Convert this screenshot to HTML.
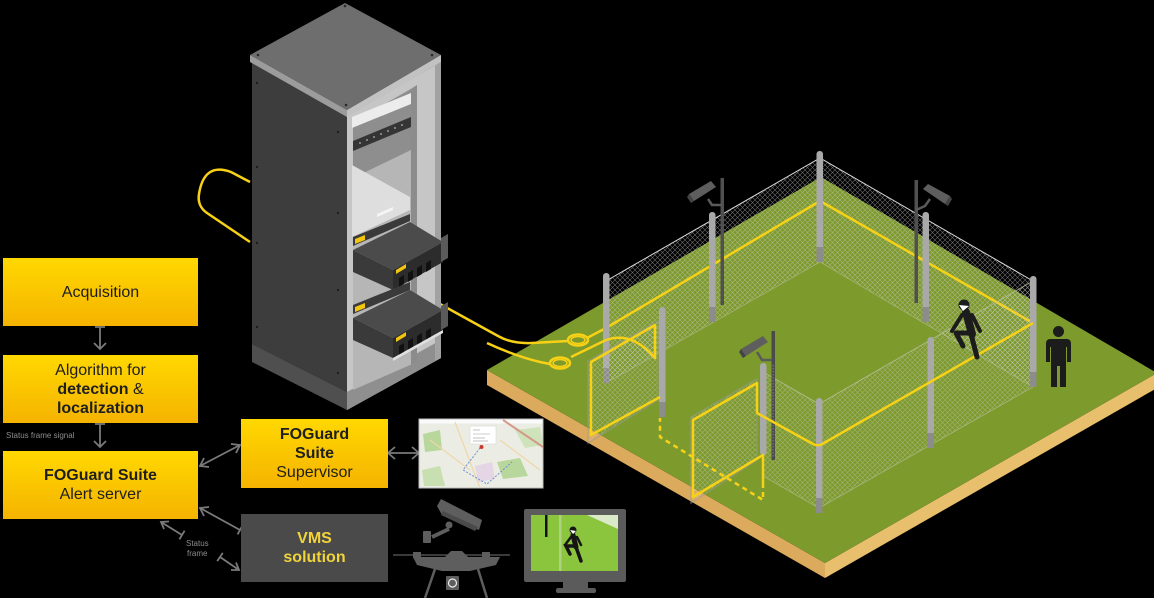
<!DOCTYPE html>
<html><head><meta charset="utf-8"><style>
html,body{margin:0;padding:0;background:#000;}
#wrap{position:relative;width:1154px;height:598px;overflow:hidden;background:#000;font-family:"Liberation Sans",sans-serif;}
.box{position:absolute;background:linear-gradient(#ffd800,#f5b300);display:flex;flex-direction:column;justify-content:center;align-items:center;text-align:center;font-size:16px;line-height:19px;color:#1e1e1e;}
.box b{font-weight:bold;}
.vms{background:#4a4a4a;color:#f0d43a;font-weight:bold;}
.lbl{position:absolute;font-size:8px;color:#8c8c8c;white-space:nowrap;line-height:10px;}
</style></head><body><div id="wrap">
<svg width="1154" height="598" viewBox="0 0 1154 598" xmlns="http://www.w3.org/2000/svg" style="position:absolute;left:0;top:0">
<defs>
<pattern id="mesh" width="5" height="5" patternUnits="userSpaceOnUse"><path d="M0,0L5,5M5,0L0,5" stroke="#cfcfcf" stroke-width="0.55" fill="none"/></pattern>
</defs>

<!-- ===== GROUND ===== -->
<polygon points="487,370 825,563 825,578 487,385" fill="#dcaa5c"/>
<polygon points="825,563 1157,373 1157,388 825,578" fill="#e8bf6c"/>
<polygon points="487,370 821,177 1157,373 825,563" fill="#7d9a2d"/>

<!-- back mesh -->
<polygon points="606,281 820,158 820,262 606,383" fill="url(#mesh)" opacity="0.55"/>
<polygon points="820,158 1033,281 1033,387 820,262" fill="url(#mesh)" opacity="0.55"/>
<polyline points="606,281 820,158 1033,281" stroke="#d8d8d8" stroke-width="1" fill="none"/>
<polyline points="606,383 820,262 1033,387" stroke="#a9b57e" stroke-width="1" fill="none" opacity="0.7"/>

<!-- back yellow cable -->
<path d="M587,338 L606,328 L820,201 L1033,323" stroke="#f7d116" stroke-width="2.5" fill="none"/>

<!-- camera poles back -->
<rect x="720.5" y="178" width="3.5" height="127" fill="#505050"/>
<rect x="914.5" y="180" width="3.5" height="123" fill="#505050"/>
<!-- camera A -->
<path d="M721,205 L712,205 L708,199" stroke="#5a5a5a" stroke-width="2.5" fill="none"/>
<polygon points="689,194 711,181 716,187 694,201" fill="#5e5e5e"/>
<polygon points="689,194 694,201 691,203 687,197" fill="#444"/>
<!-- camera B -->
<path d="M916,210 L925,206 L930,199" stroke="#5a5a5a" stroke-width="2.5" fill="none"/>
<polygon points="923,189 928,184 950,196 945,204" fill="#5e5e5e"/>
<polygon points="945,204 950,196 952,199 948,206" fill="#444"/>

<!-- back posts -->
<g>
<rect x="603" y="273" width="6.5" height="110" rx="3" fill="#a9a9a9"/><rect x="603" y="368" width="6.5" height="15" fill="#8c8c8c"/>
<rect x="709" y="212" width="6.5" height="110" rx="3" fill="#a9a9a9"/><rect x="709" y="307" width="6.5" height="15" fill="#8c8c8c"/>
<rect x="816.5" y="151" width="6.5" height="111" rx="3" fill="#a9a9a9"/><rect x="816.5" y="247" width="6.5" height="15" fill="#8c8c8c"/>
<rect x="922.5" y="212" width="6.5" height="110" rx="3" fill="#a9a9a9"/><rect x="922.5" y="307" width="6.5" height="15" fill="#8c8c8c"/>
</g>

<!-- gates & front mesh -->
<polygon points="588,361 658,321 658,400 588,443" fill="url(#mesh)" opacity="0.5" stroke="#9a9a9a" stroke-width="1.5"/>
<polygon points="691,417 757,379 757,460 691,503" fill="url(#mesh)" opacity="0.5" stroke="#9a9a9a" stroke-width="1.5"/>
<polygon points="763,372 819,404 819,508 763,476" fill="url(#mesh)" opacity="0.45"/>
<polygon points="819,404 1033,281 1033,387 819,508" fill="url(#mesh)" opacity="0.45"/>
<polyline points="763,372 819,404 1033,281" stroke="#b8c09a" stroke-width="1" fill="none" opacity="0.8"/>
<polyline points="763,476 819,508 1033,387" stroke="#b8c09a" stroke-width="1" fill="none" opacity="0.6"/>

<!-- front posts -->
<rect x="1030" y="276" width="6.5" height="111" rx="3" fill="#a9a9a9"/><rect x="1030" y="372" width="6.5" height="15" fill="#8c8c8c"/>
<rect x="659" y="307" width="6.5" height="110" rx="3" fill="#a9a9a9"/><rect x="659" y="402" width="6.5" height="15" fill="#8c8c8c"/>
<rect x="760" y="363" width="6.5" height="92" rx="3" fill="#a9a9a9"/>
<rect x="927.5" y="337" width="6.5" height="111" rx="3" fill="#a9a9a9"/><rect x="927.5" y="433" width="6.5" height="15" fill="#8c8c8c"/>
<rect x="816" y="398" width="6.5" height="115" rx="3" fill="#a9a9a9"/><rect x="816" y="498" width="6.5" height="15" fill="#8c8c8c"/>

<!-- camera pole C -->
<rect x="771.5" y="331" width="3.5" height="129" fill="#4a4a4a"/>
<line x1="773.2" y1="365" x2="773.2" y2="458" stroke="#777" stroke-width="1.2" stroke-dasharray="1.5,1.5"/>
<path d="M772,360 L762,360 L757,352" stroke="#5a5a5a" stroke-width="2.5" fill="none"/>
<polygon points="741,349 763,336 768,342 746,356" fill="#5e5e5e"/>
<polygon points="741,349 746,356 743,358 739,352" fill="#444"/>

<!-- yellow cables front -->
<g stroke="#f7d116" stroke-width="2.5" fill="none" stroke-linejoin="round">
<path d="M440,304 L498,336 Q512,344 532,343 L568,341"/>
<ellipse cx="578" cy="340" rx="10" ry="5.5"/>
<ellipse cx="578" cy="340" rx="7" ry="3.5" stroke-width="1.5"/>
<path d="M1033,323 L824,443 Q819,447 813,444 L757,413 L757,383 L693,420 L693,497 L763,455 L763,483"/>
<path d="M763,483 L763,500 L660,437 L660,418" stroke-dasharray="5,4"/>
<path d="M660,397 L591,435 L591,362 L655,325 L655,358 Q632,331 606,340 L571,357"/>
<ellipse cx="560" cy="363" rx="10" ry="5.5"/>
<ellipse cx="560" cy="363" rx="7" ry="3.5" stroke-width="1.5"/>
<path d="M550,364 L540,362 Q515,356 487,343"/>
<path d="M250,182 L231,172 Q204,162 199,194 Q197,206 207,213 L250,242"/>
</g>

<!-- climber -->
<g stroke="#1c1c1c" stroke-linecap="round" stroke-linejoin="round" fill="none">
<path d="M966,312 L972,334" stroke-width="8"/>
<path d="M971,334 L977,357" stroke-width="5"/>
<path d="M969,333 L956,333 L963,346" stroke-width="5"/>
<path d="M962,315 L952,331" stroke-width="4"/>
<path d="M972,315 L980,331" stroke-width="4"/>
</g>
<circle cx="964" cy="305" r="5.5" fill="#1c1c1c"/>
<polygon points="959,305 969,306 963,311" fill="#fff"/>

<!-- standing person -->
<circle cx="1058.5" cy="331.5" r="5.5" fill="#1c1c1c"/>
<path d="M1050,339 L1067,339 Q1071,339 1071,344 L1071,362 L1067,362 L1067,347 L1066,347 L1066,387 L1060,387 L1060,366 L1057,366 L1057,387 L1051,387 L1051,347 L1050,347 L1050,362 L1046,362 L1046,344 Q1046,339 1050,339 Z" fill="#1c1c1c"/>

<!-- ===== RACK ===== -->
<polygon points="252,62 347,116 347,392 252,344" fill="#3d3d3d"/>
<polygon points="252,344 347,392 347,410 252,362" fill="#4f4f4f"/>
<polygon points="347,116 441,62 441,358 347,410" fill="#c6c6c6"/>
<polygon points="347,392 441,340 441,358 347,410" fill="#8f8f8f"/>
<polygon points="353,122 417,85 417,362 353,390" fill="#b6b6b6"/>
<polygon points="353,122 411,89 411,150 353,178" fill="#8e8e8e"/>
<polygon points="411,89 417,85 417,362 411,365" fill="#8c8c8c"/>
<polygon points="435,66 441,62 441,358 435,361" fill="#a2a2a2"/>
<!-- top plate -->
<polygon points="345,3 441,55 347,110 250,55" fill="#6e6e6e"/>
<polygon points="250,55 347,110 347,117 250,62" fill="#9c9c9c"/>
<polygon points="347,110 441,55 441,62 347,117" fill="#c2c2c2"/>
<g fill="#2a2a2a"><circle cx="345" cy="6" r="1.3"/><circle cx="258" cy="55" r="1.3"/><circle cx="432" cy="55" r="1.3"/><circle cx="346" cy="105" r="1.3"/></g>
<!-- screws on side -->
<g fill="#1e1e1e"><circle cx="257" cy="83" r="1.2"/><circle cx="338" cy="132" r="1.2"/><circle cx="257" cy="167" r="1.2"/><circle cx="338" cy="213" r="1.2"/><circle cx="257" cy="243" r="1.2"/><circle cx="338" cy="290" r="1.2"/><circle cx="257" cy="327" r="1.2"/><circle cx="338" cy="373" r="1.2"/></g>
<!-- patch panel -->
<polygon points="352,117 411,93 411,104 352,128" fill="#ececec"/>
<polygon points="353,141 411,117 411,127 353,151" fill="#353535"/>
<g fill="#9a9a9a"><circle cx="360" cy="143" r="1"/><circle cx="367" cy="140" r="1"/><circle cx="374" cy="137" r="1"/><circle cx="381" cy="134" r="1"/><circle cx="388" cy="131" r="1"/><circle cx="395" cy="128" r="1"/><circle cx="402" cy="125" r="1"/></g>
<!-- shelf -->
<polygon points="352,165 410,197 410,210 352,237" fill="#dedede"/>
<polygon points="377,214 393,207 393,210 377,217" fill="#f5f5f5"/>
<polygon points="353,237 410,214 410,221 353,246" fill="#3a3a3a"/>
<polygon points="355,239 365,235 365,240 355,244" fill="#f2c511"/>
<!-- box 1 -->
<polygon points="353,250 393,270 393,290 353,272" fill="#3a3a3a"/>
<polygon points="353,250 410,222 443,242 393,270" fill="#4b4b4b"/>
<polygon points="393,270 443,242 443,262 393,290" fill="#2c2c2c"/>
<polygon points="441,238 448,234 448,258 441,262" fill="#5a5a5a"/>
<polygon points="396,270 406,264 406,268 396,274" fill="#f2c511"/>
<g fill="#111"><polygon points="399,278 404,275 404,284 399,287"/><polygon points="408,273 413,270 413,279 408,282"/><polygon points="417,268 422,265 422,274 417,277"/><polygon points="426,263 431,260 431,269 426,272"/></g>
<!-- mid 1U -->
<polygon points="353,305 410,282 410,290 353,314" fill="#3a3a3a"/>
<polygon points="355,307 365,303 365,308 355,312" fill="#f2c511"/>
<!-- box 2 -->
<polygon points="353,318 393,338 393,358 353,340" fill="#3a3a3a"/>
<polygon points="353,318 410,290 443,310 393,338" fill="#4b4b4b"/>
<polygon points="393,338 443,310 443,330 393,358" fill="#2c2c2c"/>
<polygon points="441,306 448,302 448,326 441,330" fill="#5a5a5a"/>
<polygon points="396,338 406,332 406,336 396,342" fill="#f2c511"/>
<g fill="#111"><polygon points="399,346 404,343 404,352 399,355"/><polygon points="408,341 413,338 413,347 408,350"/><polygon points="417,336 422,333 422,342 417,345"/><polygon points="426,331 431,328 431,337 426,340"/></g>
<polygon points="393,358 443,330 443,333 393,361" fill="#e0e0e0"/>

<!-- ===== FLOW ARROWS ===== -->
<g stroke="#7a7a7a" stroke-width="1.8" fill="none">
<path d="M95,327 L105,327 M100,327 L100,349 M94,343 L100,349 L106,343"/>
<path d="M95,424 L105,424 M100,424 L100,447 M94,441 L100,447 L106,441"/>
<path d="M200,466 L240,445 M231,444 L240,445 L236,453 M209,467 L200,466 L204,458"/>
<path d="M200,508 L240,530 M204,516 L200,508 L209,507 M237.6,534.4 L242.4,525.6"/>
<path d="M161,522 L182,535 M164,529 L161,522 L169,521.5 M179.4,539.3 L184.6,530.7"/>
<path d="M220,557 L239,570 M236,562.5 L239,570 L231,570 M217.2,561.1 L222.8,552.9"/>
<path d="M388,453 L419,453 M395,447 L388,453 L395,459 M412,447 L419,453 L412,459"/>
</g>

<!-- ===== MAP ===== -->
<rect x="419" y="419" width="124" height="69" fill="#ebede4" stroke="#bdbdbd" stroke-width="1"/>
<rect x="419.5" y="419.5" width="123" height="4" fill="#fafafa"/>
<polygon points="423,434 440,430 442,450 425,452" fill="#b8d79c"/>
<polygon points="497,462 520,458 528,476 503,479" fill="#b8d79c"/>
<polygon points="515,430 540,427 543,445 525,448" fill="#cfe3bb"/>
<polygon points="422,470 440,466 445,486 424,486" fill="#c8dfb2"/>
<polygon points="475,466 492,462 495,479 478,482" fill="#e5d6e6"/>
<path d="M503,420 L543,447" stroke="#d39a8a" stroke-width="2"/>
<path d="M430,440 L470,470 M455,422 L480,488 M500,440 L540,470" stroke="#f0d6a8" stroke-width="1.2"/>
<path d="M480,448 L463,470 L487,484 L512,462" stroke="#6d8fd0" stroke-width="1" stroke-dasharray="2,1.5" fill="none"/>
<rect x="470" y="426" width="26" height="18" fill="#ffffff" stroke="#d0d0d0" stroke-width="0.5"/>
<g stroke="#999" stroke-width="0.6"><line x1="473" y1="430" x2="480" y2="430"/><line x1="473" y1="434" x2="490" y2="434"/><line x1="473" y1="438" x2="485" y2="438"/><line x1="473" y1="441" x2="488" y2="441"/></g>
<circle cx="481.5" cy="447" r="2" fill="#c7392f"/>

<!-- ===== CCTV camera icon ===== -->
<g fill="#5e5e5e">
<polygon points="437,506 441,499 482,520 479,530 442,515"/>
<polygon points="441,515 475,531 478,527 443,511" fill="#4a4a4a"/>
<circle cx="449" cy="525" r="3.5"/>
<path d="M432,537 L449,529" stroke="#5e5e5e" stroke-width="4"/>
<rect x="423" y="531" width="8" height="12" rx="1"/>
</g>
<!-- drone -->
<g fill="#5e5e5e" stroke="#5e5e5e">
<line x1="393" y1="555" x2="510" y2="555" stroke-width="1.2"/>
<polygon points="413,557 445,557 451,551 462,551 468,557 500,557 496,565 470,571 442,571 417,565" stroke="none"/>
<rect x="413" y="552" width="8" height="6" stroke="none"/>
<rect x="482" y="552" width="8" height="6" stroke="none"/>
<path d="M435,569 L425,598 M478,569 L487,598" stroke-width="2.5" fill="none"/>
<rect x="446" y="576" width="13" height="14" rx="1" stroke="none"/>
</g>
<circle cx="452.5" cy="583" r="4" fill="none" stroke="#eee" stroke-width="1.2"/>

<!-- monitor -->
<rect x="524" y="509" width="102" height="73" rx="2" fill="#5b5b5b"/>
<rect x="531" y="515" width="87" height="56" fill="#8bc53e"/>
<polygon points="587,515 618,515 618,529" fill="#e8eee0" opacity="0.85"/>
<rect x="559" y="515" width="2.5" height="56" fill="#c8d8b0" opacity="0.6"/>
<rect x="545" y="515" width="2.5" height="22" fill="#111"/>
<g stroke="#151515" stroke-linecap="round" fill="none">
<path d="M573,535 L576,547" stroke-width="5"/>
<path d="M576,547 L581,561" stroke-width="3.5"/>
<path d="M574,546 L566,546 L570,554" stroke-width="3.5"/>
<path d="M571,537 L565,545 M577,537 L581,545" stroke-width="2.5"/>
</g>
<circle cx="573" cy="530" r="3.5" fill="#151515"/>
<polygon points="570,530 576,531 573,534" fill="#fff"/>
<rect x="563" y="582" width="25" height="7" fill="#5b5b5b"/>
<rect x="556" y="588" width="40" height="5" rx="2" fill="#5b5b5b"/>
</svg>

<div class="box" style="left:3px;top:258px;width:195px;height:68px;">Acquisition</div>
<div class="box" style="left:3px;top:355px;width:195px;height:68px;"><span>Algorithm for</span><span><b>detection</b> &amp;</span><span><b>localization</b></span></div>
<div class="lbl" style="left:6px;top:431px;">Status frame signal</div>
<div class="box" style="left:3px;top:451px;width:195px;height:68px;"><span><b>FOGuard Suite</b></span><span>Alert server</span></div>
<div class="box" style="left:241px;top:419px;width:147px;height:69px;"><span><b>FOGuard</b></span><span><b>Suite</b></span><span>Supervisor</span></div>
<div class="box vms" style="left:241px;top:514px;width:147px;height:68px;"><span>VMS</span><span>solution</span></div>
<div class="lbl" style="left:186px;top:539px;">Status</div>
<div class="lbl" style="left:187px;top:549px;">frame</div>
</div></body></html>
